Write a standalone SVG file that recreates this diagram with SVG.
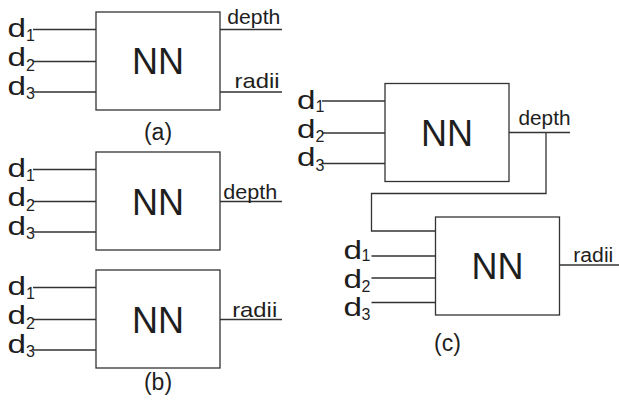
<svg xmlns="http://www.w3.org/2000/svg" width="619" height="401" viewBox="0 0 619 401">
<style>
text{font-family:"Liberation Sans",Arial,sans-serif;fill:#1e1e1e}
.box{fill:#fff;stroke:#333;stroke-width:1.3}
.ln{stroke:#333;stroke-width:1.3;fill:none}
.nn{font-size:36px;text-anchor:middle}
.d{font-size:25px}
.s{font-size:16px}
.o{font-size:21px}
.o2{font-size:20px}
.o3{font-size:21px}
.cap{font-size:23px;text-anchor:middle}
</style>
<rect width="619" height="401" fill="#fff"/>
<g id="connectors">
<path class="ln" d="M33,29.5H96M33,61.5H96M33,92H96M220,29.5H282M220,92H282"/>
<path class="ln" d="M33,169.5H96M33,201.5H96M33,232H96M220,201.5H282"/>
<path class="ln" d="M33,287.5H96M33,319.5H96M33,350H96M220,319.5H282"/>
<path class="ln" d="M322,101H385M322,133H385M322,163.5H385M509,132.5H570"/>
<path class="ln" d="M546,132.5V193.5H371.5V231H435.5"/>
<path class="ln" d="M371.5,256H435.5M371.5,278H435.5M371.5,302.5H435.5M559.5,265H619"/>
</g>
<g id="nn-a">
<rect class="box" x="96" y="12" width="124" height="98"/>
<text class="nn" x="158" y="74">NN</text>
</g>
<g id="nn-b1">
<rect class="box" x="96" y="152" width="124" height="98"/>
<text class="nn" x="158" y="214.5">NN</text>
</g>
<g id="nn-b2">
<rect class="box" x="96" y="270" width="124" height="98"/>
<text class="nn" x="158" y="332.5">NN</text>
</g>
<g id="nn-c1">
<rect class="box" x="385" y="83.5" width="124" height="98"/>
<text class="nn" x="447" y="145.5">NN</text>
</g>
<g id="nn-c2">
<rect class="box" x="435.5" y="217" width="124" height="98"/>
<text class="nn" x="497.5" y="279">NN</text>
</g>
<g id="labels-a">
<text class="d" x="7.5" y="37" textLength="18.5" lengthAdjust="spacingAndGlyphs">d</text><text class="s" x="26" y="40.5">1</text>
<text class="d" x="7.5" y="66" textLength="18.5" lengthAdjust="spacingAndGlyphs">d</text><text class="s" x="26" y="70.5">2</text>
<text class="d" x="7.5" y="94.5" textLength="18.5" lengthAdjust="spacingAndGlyphs">d</text><text class="s" x="26" y="99">3</text>
<text class="o" x="227.3" y="24.3" textLength="53" lengthAdjust="spacingAndGlyphs">depth</text>
<text class="o3" x="234.5" y="87.5" textLength="45" lengthAdjust="spacingAndGlyphs">radii</text>
<text class="cap" x="158" y="139.5">(a)</text>
</g>
<g id="labels-b">
<text class="d" x="7.5" y="177" textLength="18.5" lengthAdjust="spacingAndGlyphs">d</text><text class="s" x="26" y="180.5">1</text>
<text class="d" x="7.5" y="206" textLength="18.5" lengthAdjust="spacingAndGlyphs">d</text><text class="s" x="26" y="210.5">2</text>
<text class="d" x="7.5" y="234.5" textLength="18.5" lengthAdjust="spacingAndGlyphs">d</text><text class="s" x="26" y="239">3</text>
<text class="o" x="223.3" y="199.3" textLength="54" lengthAdjust="spacingAndGlyphs">depth</text>
<text class="d" x="7.5" y="295" textLength="18.5" lengthAdjust="spacingAndGlyphs">d</text><text class="s" x="26" y="298.5">1</text>
<text class="d" x="7.5" y="324" textLength="18.5" lengthAdjust="spacingAndGlyphs">d</text><text class="s" x="26" y="328.5">2</text>
<text class="d" x="7.5" y="352.5" textLength="18.5" lengthAdjust="spacingAndGlyphs">d</text><text class="s" x="26" y="357">3</text>
<text class="o3" x="232.2" y="316.7" textLength="45" lengthAdjust="spacingAndGlyphs">radii</text>
<text class="cap" x="158" y="389.5">(b)</text>
</g>
<g id="labels-c">
<text class="d" x="297" y="108.5" textLength="18.5" lengthAdjust="spacingAndGlyphs">d</text><text class="s" x="315.5" y="112">1</text>
<text class="d" x="297" y="137.5" textLength="18.5" lengthAdjust="spacingAndGlyphs">d</text><text class="s" x="315.5" y="142">2</text>
<text class="d" x="297" y="166" textLength="18.5" lengthAdjust="spacingAndGlyphs">d</text><text class="s" x="315.5" y="170.5">3</text>
<text class="o" x="518.5" y="125" textLength="52" lengthAdjust="spacingAndGlyphs">depth</text>
<text class="d" x="343.5" y="258.5" textLength="18.5" lengthAdjust="spacingAndGlyphs">d</text><text class="s" x="361.5" y="260.5">1</text>
<text class="d" x="343.5" y="287.5" textLength="18.5" lengthAdjust="spacingAndGlyphs">d</text><text class="s" x="361.5" y="292">2</text>
<text class="d" x="343.5" y="315.5" textLength="18.5" lengthAdjust="spacingAndGlyphs">d</text><text class="s" x="361.5" y="319.5">3</text>
<text class="o2" x="573.3" y="262.3" textLength="40" lengthAdjust="spacingAndGlyphs">radii</text>
<text class="cap" x="447.5" y="351">(c)</text>
</g>
</svg>
